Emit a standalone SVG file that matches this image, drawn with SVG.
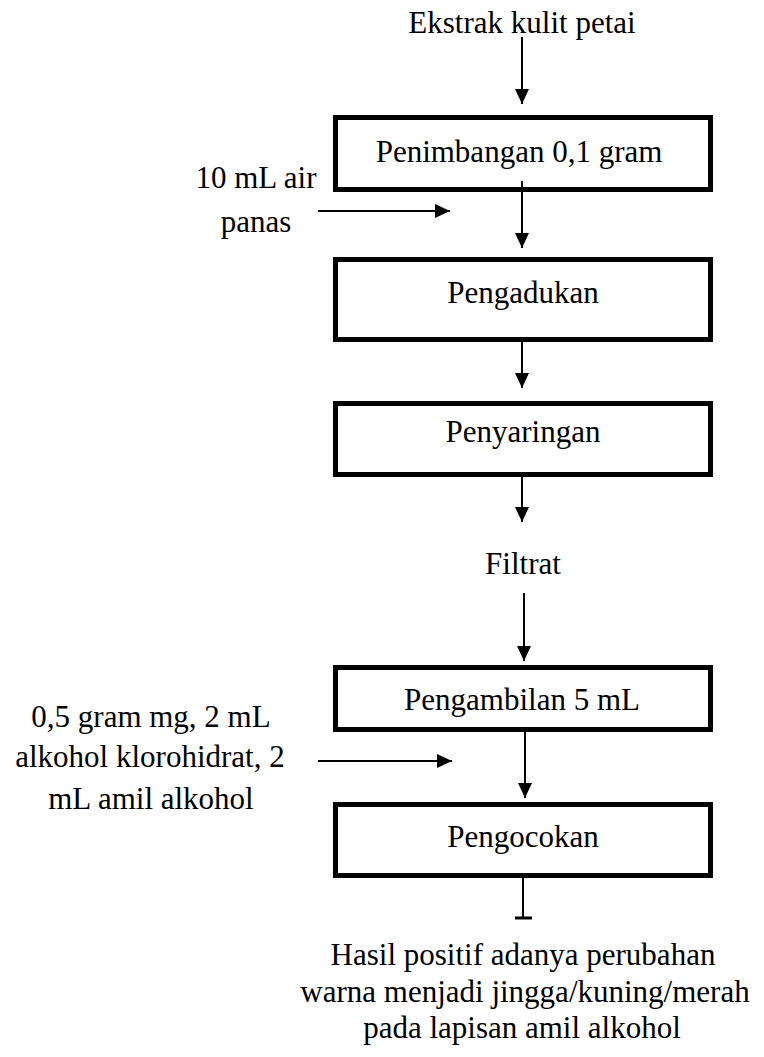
<svg xmlns="http://www.w3.org/2000/svg" width="764" height="1057" viewBox="0 0 764 1057">
  <style>
    .box { fill: #ffffff; stroke: #000000; stroke-width: 5; }
    .lbl { font-size: 31px; fill: #000000; }
    .mid { text-anchor: middle; }
    .flow { stroke: #000000; stroke-width: 2; fill: none; }
  </style>
  <defs>
    <marker id="head" viewBox="0 0 15 14" refX="15" refY="7" markerWidth="15" markerHeight="14" markerUnits="userSpaceOnUse" orient="auto">
      <path d="M0,0 L15,7 L0,14 Z" fill="#000000"/>
    </marker>
  </defs>

  <rect width="764" height="1057" fill="#ffffff"/>

  <g font-family="Liberation Serif, Tinos, Times New Roman, DejaVu Serif, serif">
  <!-- free-standing labels -->
  <g id="start">
    <text class="lbl mid" x="522" y="33">Ekstrak kulit petai</text>
  </g>
  <g id="input-water">
    <text class="lbl mid" x="256" y="188">10 mL air</text>
    <text class="lbl mid" x="256" y="232">panas</text>
  </g>
  <g id="filtrate">
    <text class="lbl mid" x="523" y="574">Filtrat</text>
  </g>
  <g id="input-reagents">
    <text class="lbl mid" x="151" y="727">0,5 gram mg, 2 mL</text>
    <text class="lbl mid" x="150" y="767">alkohol klorohidrat, 2</text>
    <text class="lbl mid" x="151" y="809">mL amil alkohol</text>
  </g>
  <g id="result">
    <text class="lbl mid" x="523" y="965">Hasil positif adanya perubahan</text>
    <text class="lbl mid" x="525" y="1002">warna menjadi jingga/kuning/merah</text>
    <text class="lbl mid" x="522" y="1038">pada lapisan amil alkohol</text>
  </g>

  <!-- process steps -->
  <g id="step-weigh">
    <rect class="box" x="335.5" y="117.5" width="375" height="72"/>
    <text class="lbl mid" x="519" y="162">Penimbangan 0,1 gram</text>
  </g>
  <g id="step-stir">
    <rect class="box" x="335.5" y="259.5" width="375" height="80"/>
    <text class="lbl mid" x="523" y="303">Pengadukan</text>
  </g>
  <g id="step-filter">
    <rect class="box" x="335.5" y="403.5" width="375" height="71"/>
    <text class="lbl mid" x="523" y="442">Penyaringan</text>
  </g>
  <g id="step-take">
    <rect class="box" x="335.5" y="667.5" width="375" height="62"/>
    <text class="lbl mid" x="522" y="710">Pengambilan 5 mL</text>
  </g>
  <g id="step-shake">
    <rect class="box" x="335.5" y="804.5" width="375" height="71"/>
    <text class="lbl mid" x="523" y="847">Pengocokan</text>
  </g>
  </g>

  <!-- connectors -->
  <g id="connectors">
    <line class="flow" x1="522" y1="37" x2="522" y2="104" marker-end="url(#head)"/>
    <line class="flow" x1="522" y1="181" x2="522" y2="248" marker-end="url(#head)"/>
    <line class="flow" x1="318" y1="211" x2="450" y2="211" marker-end="url(#head)"/>
    <line class="flow" x1="522" y1="342" x2="522" y2="388" marker-end="url(#head)"/>
    <line class="flow" x1="522" y1="477" x2="522" y2="522" marker-end="url(#head)"/>
    <line class="flow" x1="524" y1="593" x2="524" y2="661" marker-end="url(#head)"/>
    <line class="flow" x1="318" y1="761" x2="452" y2="761" marker-end="url(#head)"/>
    <line class="flow" x1="525" y1="732" x2="525" y2="798" marker-end="url(#head)"/>
    <line class="flow" x1="523" y1="878" x2="523" y2="918"/>
    <line x1="515" y1="918" x2="532" y2="918" stroke="#000000" stroke-width="3"/>
  </g>
</svg>
